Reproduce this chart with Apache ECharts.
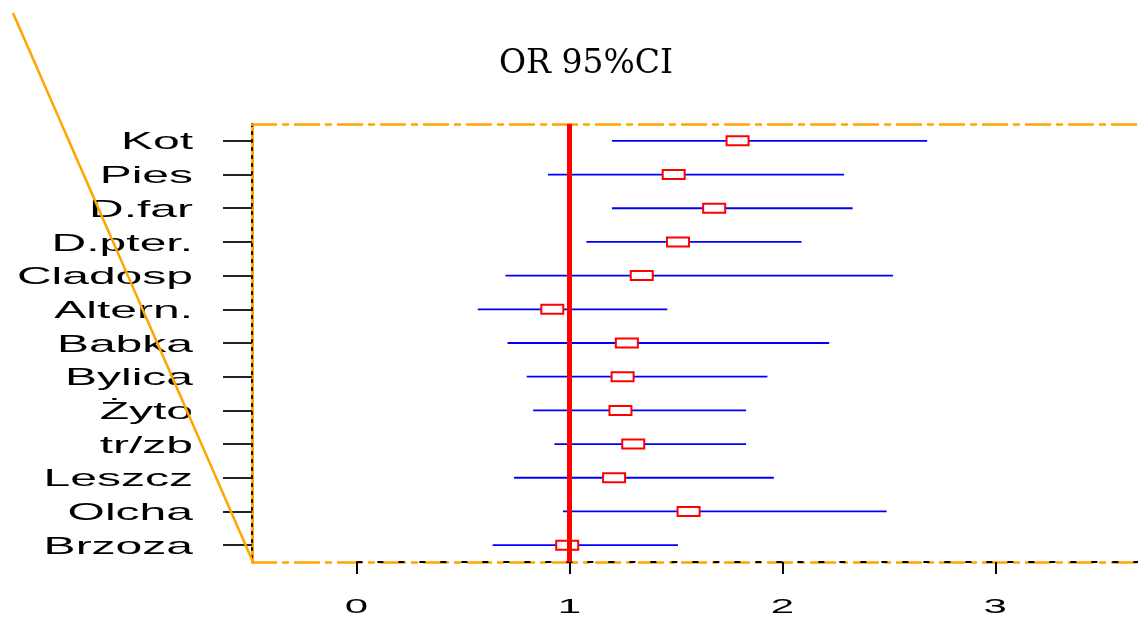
<!DOCTYPE html>
<html>
<head>
<meta charset="utf-8">
<script src="https://cdn.jsdelivr.net/npm/echarts@6/dist/echarts.min.js"></script>
<style>
  html, body { margin: 0; padding: 0; background: #fff; }
  #main { width: 1138px; height: 619px; }
</style>
</head>
<body>
<div id="main"></div>
<script>
// forest plot: OR z przedziałem 95%CI
const categories = ['Kot', 'Pies', 'D.far', 'D.pter.', 'Cladosp', 'Altern.', 'Babka', 'Bylica', 'Żyto', 'tr/zb', 'Leszcz', 'Olcha', 'Brzoza'];
const orValues = [1.79, 1.49, 1.68, 1.51, 1.34, 0.92, 1.27, 1.25, 1.24, 1.30, 1.21, 1.56, 0.99];
const ciLower = [1.20, 0.90, 1.20, 1.08, 0.70, 0.57, 0.71, 0.80, 0.83, 0.93, 0.74, 0.97, 0.64];
const ciUpper = [2.68, 2.29, 2.33, 2.09, 2.52, 1.46, 2.22, 1.93, 1.83, 1.83, 1.96, 2.49, 1.51];
const xTicks = [0, 1, 2, 3];
const refValue = 1;

const ORANGE = '#FFA500';
const dashDot = [24, 7, 5, 7];

let chart = echarts.init(document.getElementById('main'));

let ciData = categories.map(function (c, i) {
  return [ciLower[i], orValues[i], ciUpper[i], i];
});

// przedziały + kwadraty OR
function renderCI(params, api) {
  let y = api.value(3);
  let lo = api.coord([api.value(0), y]);
  let mid = api.coord([api.value(1), y]);
  let hi = api.coord([api.value(2), y]);
  return {
    type: 'group',
    children: [
      {
        type: 'line',
        shape: { x1: lo[0], y1: lo[1], x2: hi[0], y2: hi[1] },
        style: { stroke: '#0000FF', lineWidth: 1.8 }
      },
      {
        type: 'rect',
        shape: { x: mid[0] - 11, y: mid[1] - 4.5, width: 22, height: 9 },
        style: { fill: '#fff', stroke: '#FF0000', lineWidth: 2 }
      }
    ]
  };
}

// czarne kreski na dolnej osi od x=0
function renderFrame(params, api) {
  let cs = params.coordSys;
  let p0 = api.coord([0, 0]);
  let bottom = cs.y + cs.height;
  return {
    type: 'group',
    children: [
      {
        type: 'line',
        shape: { x1: p0[0], y1: bottom, x2: cs.x + cs.width, y2: bottom },
        style: { stroke: '#000', lineWidth: 2, lineDash: [6, 15] }
      }
    ]
  };
}

let option = {
  backgroundColor: '#fff',
  animation: false,
  title: {
    text: 'OR 95%CI',
    left: 494,
    top: 43,
    textStyle: {
      fontFamily: 'DejaVu Serif',
      fontSize: 33,
      fontWeight: 'normal',
      color: '#000'
    }
  },
  grid: {
    left: 252,
    right: 0,
    top: 124,
    bottom: 57
  },
  xAxis: [
    {
      type: 'value',
      min: -0.49,
      max: 3.67,
      position: 'bottom',
      splitLine: { show: false },
      axisLine: { show: true, onZero: false, lineStyle: { color: ORANGE, width: 2.5, type: dashDot } },
      axisTick: {
        show: true,
        customValues: xTicks,
        length: 12,
        lineStyle: { color: '#000', width: 2 }
      },
      axisLabel: { show: false }
    },
    {
      type: 'value',
      min: -0.49,
      max: 3.67,
      position: 'top',
      splitLine: { show: false },
      axisLine: { show: true, onZero: false, lineStyle: { color: ORANGE, width: 2.5, type: dashDot } },
      axisTick: { show: false },
      axisLabel: { show: false }
    }
  ],
  yAxis: [
    {
      type: 'category',
      data: categories,
      inverse: true,
      position: 'left',
      axisLine: { show: true, onZero: false, lineStyle: { color: ORANGE, width: 3 } },
      axisTick: {
        show: true,
        alignWithLabel: true,
        length: 29,
        lineStyle: { color: '#222', width: 2 }
      },
      axisLabel: { show: false },
      splitLine: { show: false }
    },
    {
      type: 'category',
      data: categories,
      inverse: true,
      position: 'left',
      offset: 0,
      axisLine: { show: true, onZero: false, lineStyle: { color: '#000', width: 2, type: [2, 6] } },
      axisTick: { show: false },
      axisLabel: { show: false },
      splitLine: { show: false }
    }
  ],
  series: [
    {
      name: 'frame',
      type: 'custom',
      silent: true,
      z: 1,
      renderItem: renderFrame,
      data: [[0]]
    },
    {
      name: 'OR 95%CI',
      type: 'custom',
      z: 3,
      renderItem: renderCI,
      encode: { x: [0, 1, 2], y: 3 },
      data: ciData
    },
    {
      name: 'ref',
      type: 'line',
      data: [],
      z: 5,
      markLine: {
        silent: true,
        symbol: 'none',
        label: { show: false },
        lineStyle: { color: '#FF0000', width: 5, type: 'solid' },
        data: [{ xAxis: refValue }]
      }
    }
  ]
};

chart.setOption(option);

// etykiety rozciągnięte poziomo, jak w oryginale
let labels = [];
categories.forEach(function (c, i) {
  let y = chart.convertToPixel({ yAxisIndex: 0 }, c);
  labels.push({
    type: 'text',
    x: 193,
    y: y + 2,
    scaleX: 2,
    style: {
      text: c,
      fill: '#000',
      font: '24px "Liberation Sans", Arial, sans-serif',
      textAlign: 'right',
      textVerticalAlign: 'middle'
    }
  });
});
xTicks.forEach(function (v) {
  let x = chart.convertToPixel({ xAxisIndex: 0 }, v);
  labels.push({
    type: 'text',
    x: x,
    y: 607,
    scaleX: 2,
    style: {
      text: String(v),
      fill: '#000',
      font: '21px "Liberation Sans", Arial, sans-serif',
      textAlign: 'center',
      textVerticalAlign: 'middle'
    }
  });
});
labels.push({
  type: 'line',
  shape: { x1: 13, y1: 13, x2: 253, y2: 562 },
  style: { stroke: ORANGE, lineWidth: 2.5 },
  z: 10
});

chart.setOption({ graphic: labels });
</script>
</body>
</html>
